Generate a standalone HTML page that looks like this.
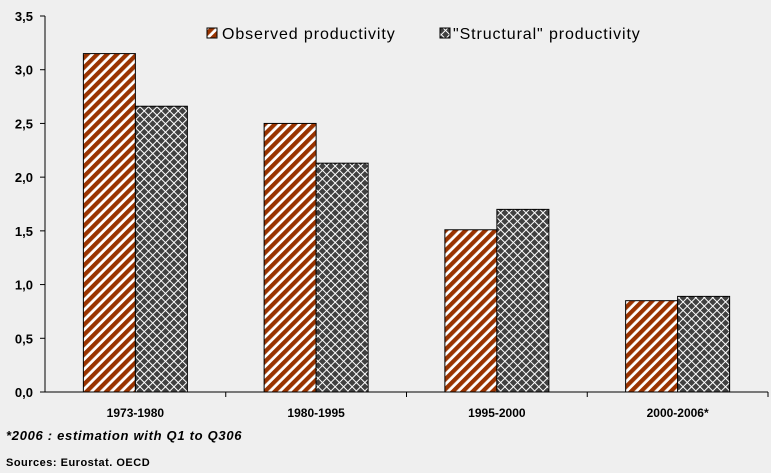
<!DOCTYPE html>
<html><head><meta charset="utf-8"><style>
body{margin:0;background:#efefef;}
svg{display:block;font-family:"Liberation Sans",Arial,sans-serif;}
</style></head><body>
<svg id="chart" width="771" height="473">
<defs>
<pattern id="stripe" patternUnits="userSpaceOnUse" width="7" height="7" patternTransform="rotate(45)">
<rect width="7" height="7" fill="#ffffff"/><rect width="4.2" height="7" fill="#993300"/>
</pattern>
<pattern id="cross" patternUnits="userSpaceOnUse" width="6" height="6" patternTransform="rotate(45)">
<rect width="6" height="6" fill="#404040"/>
<rect x="0" y="0" width="1" height="6" fill="#ffffff"/><rect x="0" y="0" width="6" height="1" fill="#ffffff"/>
</pattern>
</defs>
<rect width="771" height="473" fill="#efefef"/>
<g id="plot"></g>
<g>
<rect x="207" y="28" width="10" height="10" fill="url(#stripe)" stroke="#000"/>
<text x="222" y="39" font-size="16" letter-spacing="0.9">Observed productivity</text>
<rect x="440" y="28" width="10" height="10" fill="url(#cross)" stroke="#000"/>
<text x="453" y="39" font-size="16" letter-spacing="0.9">"Structural" productivity</text>
</g>
<text x="6" y="440" font-size="13" letter-spacing="0.7" font-style="italic" font-weight="bold">*2006 : estimation with Q1 to Q306</text>
<text x="6" y="466" font-size="11" letter-spacing="0.5" font-weight="bold">Sources: Eurostat. OECD</text>
</svg>
<script>
const categories=["1973-1980","1980-1995","1995-2000","2000-2006*"];
const observed=[3.15,2.50,1.51,0.85];
const structural=[2.66,2.13,1.70,0.89];
const yTicks=[0,0.5,1,1.5,2,2.5,3,3.5];
const NS="http://www.w3.org/2000/svg";
const g=document.getElementById("plot");
const x0=45,x1=768,y0=392,yTop=16,yMax=3.5;
const bw=(x1-x0)/categories.length;
function y(v){return y0-(v/yMax)*(y0-yTop);}
function mk(t,a){const e=document.createElementNS(NS,t);for(const k in a)e.setAttribute(k,a[k]);g.appendChild(e);return e;}
categories.forEach((c,i)=>{
 const cx=x0+bw*i+bw/2;
 let r=mk("rect",{x:cx-52,y:y(observed[i]),width:52,height:y0-y(observed[i]),fill:"url(#stripe)",stroke:"#000","stroke-width":1});
 
 
 r=mk("rect",{x:cx,y:y(structural[i]),width:52,height:y0-y(structural[i]),fill:"url(#cross)",stroke:"#000","stroke-width":1});
 
 
 const t=mk("text",{x:cx,y:y0+25,"text-anchor":"middle","font-size":12,"font-weight":"bold"});
 t.textContent=c;
 
 
 const tk=mk("line",{x1:x0+bw*(i+1),x2:x0+bw*(i+1),y1:y0,y2:y0+5,stroke:"#000"});
 
 
});
yTicks.forEach(v=>{
 const l=mk("line",{x1:x0-5,x2:x0,y1:y(v),y2:y(v),stroke:"#000"});
 
 
 const t=mk("text",{x:x0-12,y:y(v)+5,"text-anchor":"end","font-size":13,"font-weight":"bold"});
 t.textContent=v.toFixed(1).replace(".",",");
 
 
});
const ax=mk("line",{x1:x0,x2:x0,y1:yTop,y2:y0,stroke:"#000"});


const xa=mk("line",{x1:x0,x2:x1,y1:y0,y2:y0,stroke:"#000"});


</script>
</body></html>
